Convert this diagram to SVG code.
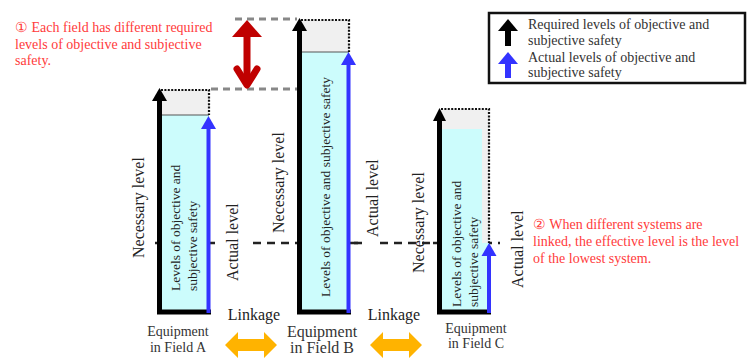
<svg xmlns="http://www.w3.org/2000/svg" width="752" height="359" viewBox="0 0 752 359" font-family="'Liberation Serif', 'DejaVu Serif', serif">
<style>
text{font-family:'Liberation Serif','DejaVu Serif',serif}
.red{fill:#ff3b3b;font-size:14px}
.lg{fill:#333;font-size:14px}
.lbl{fill:#222;font-size:16px}
.inn{fill:#222;font-size:13.5px}
.eq{fill:#333;text-anchor:middle}
.gray{fill:#f0f0f0}
.cyan{fill:#ccfcfc}
.dot{stroke:#111;stroke-width:2.2;stroke-dasharray:2 1.4;fill:none}
.blk{stroke:#000;stroke-width:5}
.blu{stroke:#3333ff;stroke-width:4}
.gd{stroke:#888;stroke-width:3;stroke-dasharray:7 5;fill:none}
.kd{stroke:#222;stroke-width:2.5;stroke-dasharray:8 6;fill:none}
.org{fill:#ffb300}
</style>
<rect width="752" height="359" fill="#fff"/>

<g id="note1">
<text class="red" x="15" y="32">① Each field has different required</text>
<text class="red" x="15" y="49">levels of  objective and subjective</text>
<text class="red" x="15" y="65">safety.</text>
</g>

<g id="legend">
<rect x="489" y="13" width="256" height="70" fill="#fff" stroke="#111" stroke-width="2.5"/>
<rect x="505" y="29" width="6" height="17" fill="#000"/>
<polygon points="498,31 508,19 518,31" fill="#000"/>
<rect x="505" y="62" width="6" height="16" fill="#3333ff"/>
<polygon points="498,64 508,52 518,64" fill="#3333ff"/>
<text class="lg" x="528" y="29">Required levels of objective and</text>
<text class="lg" x="528" y="45">subjective safety</text>
<text class="lg" x="528" y="62">Actual levels of objective and</text>
<text class="lg" x="528" y="77">subjective safety</text>
</g>

<g id="connectors">
<path class="gd" d="M235 19 H297"/>
<path class="gd" d="M211 89 H297"/>
<path class="kd" d="M253 243 H297 M354 243 H362 M380 243 H436 M484 243 H500"/>
<path d="M155 243 H164 M204 243 H215 M297 243 H308 M338 243 H358 M433 243 H442" stroke="#222" stroke-width="2.5"/>
<g id="redArrow" fill="#c00000">
<polygon points="232,37 247,20 262,37"/>
<rect x="243.5" y="34" width="7" height="50"/>
<polyline points="237,69 247,85 257,69" fill="none" stroke="#c00000" stroke-width="7" stroke-linecap="round" stroke-linejoin="round"/>
</g>
<polygon class="org" points="225,345 238,332 238,339 264,339 264,332 277,345 264,358 264,351 238,351 238,358"/>
<polygon class="org" points="370,345 383,332 383,339 409,339 409,332 422,345 409,358 409,351 383,351 383,358"/>
<text class="lbl" x="254" y="320" text-anchor="middle">Linkage</text>
<text class="lbl" x="394" y="320" text-anchor="middle">Linkage</text>
</g>

<g id="barA">
<rect class="gray" x="159" y="90" width="50" height="25"/>
<rect class="cyan" x="159" y="115" width="50" height="197"/>
<line x1="159" y1="115" x2="209" y2="115" stroke="#555" stroke-width="1"/>
<path class="dot" d="M161 90 H209 V115"/>
<line class="blk" x1="157" y1="312" x2="211" y2="312" stroke-width="4"/>
<line class="blk" x1="159.5" y1="314" x2="159.5" y2="98"/>
<polygon points="152,101 159.5,88 167,101" fill="#000"/>
<line class="blu" x1="208.5" y1="313" x2="208.5" y2="126"/>
<polygon points="201,129 208.5,116 216,129" fill="#3333ff"/>
<text class="inn" transform="translate(180,291) rotate(-90)">Levels of  objective and</text>
<text class="inn" transform="translate(197,291) rotate(-90)">subjective safety</text>
<text class="lbl" transform="translate(144,258) rotate(-90)">Necessary level</text>
<text class="lbl" transform="translate(238,281) rotate(-90)">Actual level</text>
<text class="eq" x="178" y="336" font-size="14">Equipment</text>
<text class="eq" x="178" y="352" font-size="14">in Field A</text>
</g>

<g id="barB">
<rect class="gray" x="299" y="20" width="50" height="32"/>
<rect class="cyan" x="299" y="52" width="50" height="260"/>
<line x1="299" y1="52" x2="349" y2="52" stroke="#555" stroke-width="1"/>
<path class="dot" d="M301 20 H349 V52"/>
<line class="blk" x1="297" y1="312" x2="351" y2="312" stroke-width="4"/>
<line class="blk" x1="299.5" y1="314" x2="299.5" y2="28"/>
<polygon points="292,31 299.5,18 307,31" fill="#000"/>
<line class="blu" x1="348.5" y1="313" x2="348.5" y2="62"/>
<polygon points="341,65 348.5,52 356,65" fill="#3333ff"/>
<text class="inn" transform="translate(330,297) rotate(-90)">Levels of  objective and subjective safety</text>
<text class="lbl" transform="translate(284,233) rotate(-90)">Necessary level</text>
<text class="lbl" transform="translate(378,237) rotate(-90)">Actual level</text>
<text class="eq" x="322" y="337" font-size="16">Equipment</text>
<text class="eq" x="322" y="353" font-size="16">in Field B</text>
</g>

<g id="barC">
<rect class="gray" x="439" y="109" width="50" height="204"/>
<rect class="cyan" x="441" y="129" width="41" height="184"/>
<rect class="cyan" x="441" y="243" width="48" height="70"/>
<path class="dot" d="M441 109 H489 V243"/>
<line class="blk" x1="437" y1="312" x2="491" y2="312" stroke-width="4"/>
<line class="blk" x1="439.5" y1="314" x2="439.5" y2="117"/>
<polygon points="433,121 439.5,108 446,121" fill="#000"/>
<line class="blu" x1="489" y1="313" x2="489" y2="253"/>
<polygon points="481.5,256 489,243 496.5,256" fill="#3333ff"/>
<text class="inn" transform="translate(461,307) rotate(-90)">Levels of  objective and</text>
<text class="inn" transform="translate(478,307) rotate(-90)">subjective safety</text>
<text class="lbl" transform="translate(424,273) rotate(-90)">Necessary level</text>
<text class="lbl" transform="translate(523,288) rotate(-90)">Actual level</text>
<text class="eq" x="476" y="333" font-size="14">Equipment</text>
<text class="eq" x="476" y="348" font-size="14">in Field C</text>
</g>

<g id="note2">
<text class="red" x="533" y="229" font-size="13.8">② When different systems are</text>
<text class="red" x="533" y="246" font-size="13.8">linked, the effective level is the level</text>
<text class="red" x="533" y="263" font-size="13.8">of  the lowest system.</text>
</g>
</svg>
